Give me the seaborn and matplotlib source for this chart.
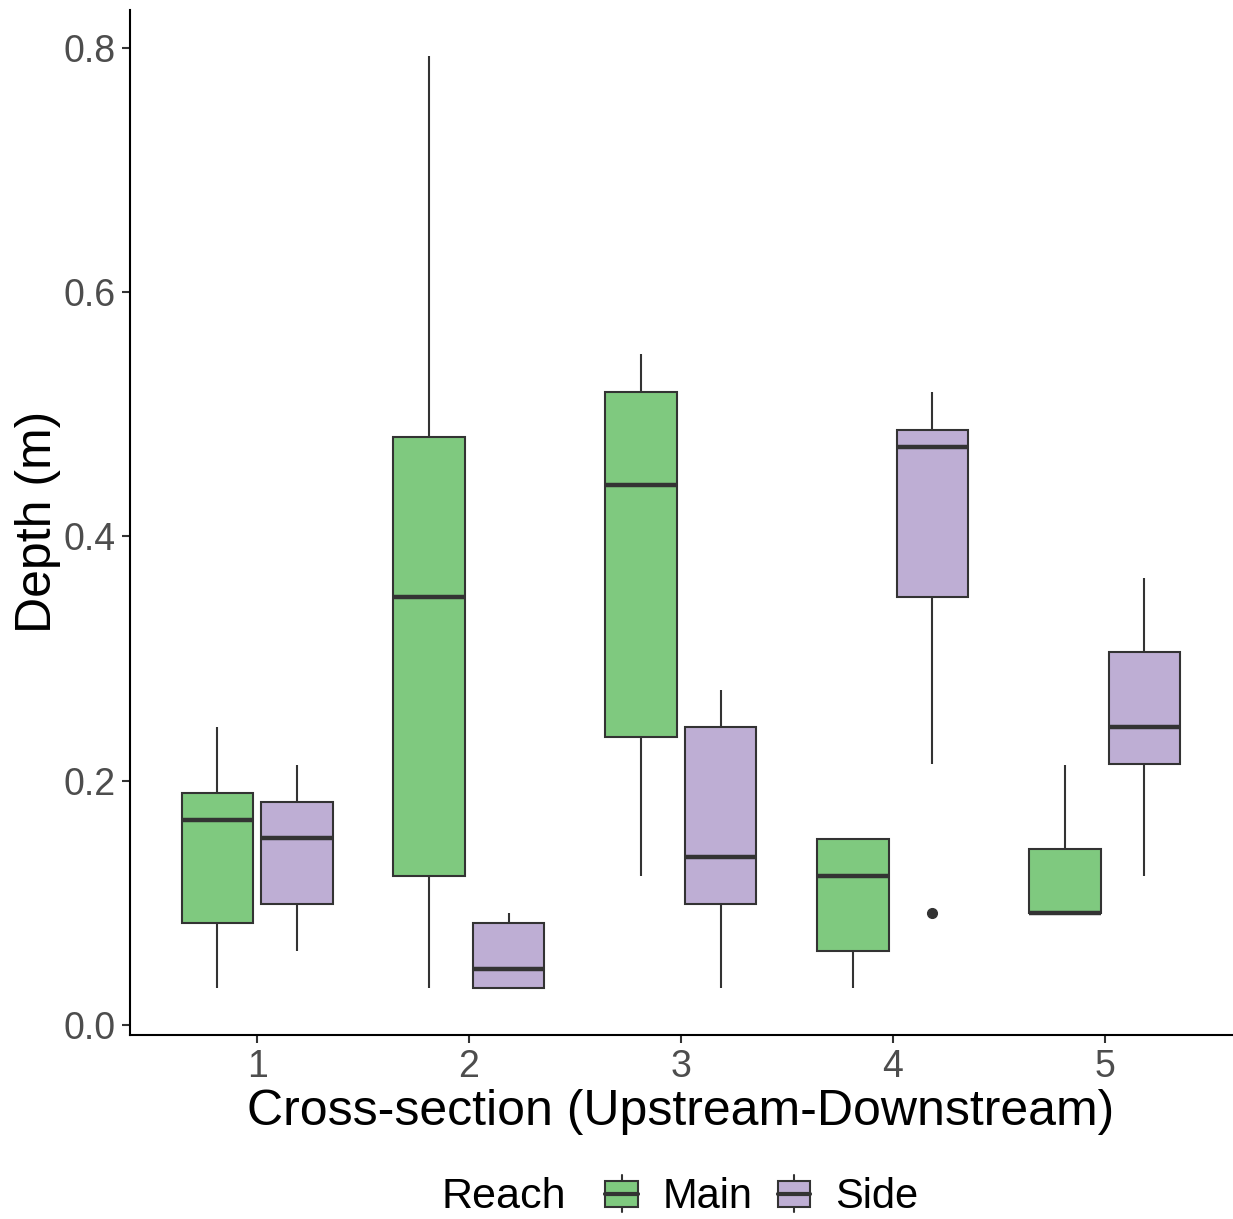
import numpy as np
import pandas as pd
import seaborn as sns
import matplotlib
matplotlib.use("Agg")
from matplotlib import pyplot as plt
from matplotlib.patches import Patch, Rectangle
from matplotlib.lines import Line2D
from matplotlib.legend_handler import HandlerBase

# depth values (m) per cross-section and reach
sections = ["1", "2", "3", "4", "5"]
reaches = ["Main", "Side"]
main_depth = [
    [0.030, 0.084, 0.168, 0.190, 0.244],
    [0.030, 0.122, 0.350, 0.481, 0.793],
    [0.122, 0.236, 0.442, 0.518, 0.549],
    [0.030, 0.061, 0.122, 0.152, 0.152],
    [0.092, 0.092, 0.092, 0.144, 0.213],
]
side_depth = [
    [0.061, 0.099, 0.153, 0.183, 0.213],
    [0.030, 0.030, 0.046, 0.084, 0.092],
    [0.030, 0.099, 0.138, 0.244, 0.274],
    [0.092, 0.214, 0.350, 0.400, 0.473, 0.480, 0.487, 0.500, 0.518],
    [0.122, 0.214, 0.244, 0.305, 0.366],
]
colors = {"Main": "#7FC97F", "Side": "#BEAED4"}

rows = []
for sec, vals in zip(sections, main_depth):
    rows += [(sec, "Main", v) for v in vals]
for sec, vals in zip(sections, side_depth):
    rows += [(sec, "Side", v) for v in vals]
df = pd.DataFrame(rows, columns=["section", "Reach", "depth"])

sns.set_style("white")
plt.rcParams["font.family"] = ["Liberation Sans", "DejaVu Sans"]
plt.rcParams["text.color"] = "black"
plt.rcParams["axes.labelcolor"] = "black"

fig = plt.figure(figsize=(12.33, 12.19), dpi=100)
ax = fig.add_axes([0.1054, 0.151, 0.8936, 0.841])

edge = "#333333"
sns.boxplot(data=df, x="section", y="depth", hue="Reach", order=sections,
            hue_order=reaches, palette=colors, saturation=1, width=0.75, gap=0.1,
            linecolor=edge, linewidth=1.5, ax=ax, legend=False,
            medianprops={"linewidth": 3.2, "color": edge},
            whiskerprops={"linewidth": 1.5, "color": edge},
            capprops={"linewidth": 0},
            flierprops={"marker": "o", "markerfacecolor": edge,
                        "markeredgecolor": edge, "markersize": 7})

ax.set_xlim(-0.6, 4.6)
ax.set_ylim(-0.008, 0.831)
ax.set_yticks([0.0, 0.2, 0.4, 0.6, 0.8])
ax.set_yticklabels(["0.0", "0.2", "0.4", "0.6", "0.8"])
for s in ["top", "right"]:
    ax.spines[s].set_visible(False)
for s in ["left", "bottom"]:
    ax.spines[s].set_linewidth(1.5)
    ax.spines[s].set_color("black")
ax.tick_params(axis="both", length=6, width=1.5, color=edge,
               labelsize=27, labelcolor="#4D4D4D", pad=4, direction="out",
               left=True, bottom=True)
ax.set_xlabel("Cross-section (Upstream-Downstream)", fontsize=36, labelpad=3)
ax.set_ylabel("Depth (m)", fontsize=36, labelpad=2)


class BoxHandler(HandlerBase):
    def create_artists(self, legend, orig_handle, xdescent, ydescent,
                       width, height, fontsize, trans):
        bh = height * 0.78
        y0 = -ydescent + (height - bh) / 2
        x0 = -xdescent
        rect = Rectangle((x0, y0), width, bh, facecolor=orig_handle.get_facecolor(),
                         edgecolor=edge, linewidth=1.5, transform=trans)
        mid = y0 + bh / 2
        med = Line2D([x0, x0 + width], [mid, mid], color=edge, lw=3, transform=trans)
        cx = x0 + width / 2
        top = Line2D([cx, cx], [y0 + bh, y0 + bh + height * 0.16], color=edge,
                     lw=1.5, transform=trans)
        bot = Line2D([cx, cx], [y0, y0 - height * 0.16], color=edge,
                     lw=1.5, transform=trans)
        return [top, bot, rect, med]


handles = [Patch(facecolor=colors[r], label=r) for r in reaches]
fig.legend(handles=handles, loc="center", bbox_to_anchor=(0.618, 0.018),
           ncol=2, frameon=False, fontsize=30, handler_map={Patch: BoxHandler()},
           handlelength=0.78, handleheight=0.85, handletextpad=0.6,
           columnspacing=0.6, borderpad=0)
fig.text(0.459, 0.018, "Reach", fontsize=31, ha="right", va="center")

fig.savefig("out.png", dpi=100)
